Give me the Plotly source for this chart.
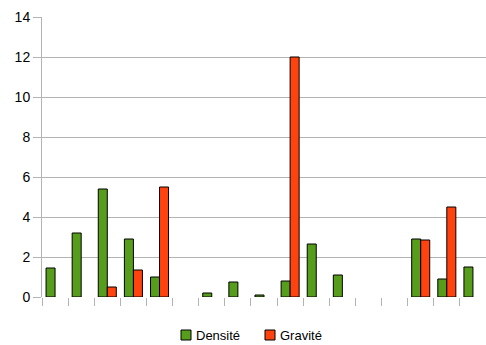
import plotly.graph_objects as go

# Seventeen unlabeled categories along the x axis; None = no bar
positions = list(range(17))
densite = [1.45, 3.2, 5.4, 2.9, 1.0, None, 0.2, 0.75, 0.1, 0.8, 2.65, 1.1, None, None, 2.9, 0.9, 1.5]
gravite = [None, None, 0.5, 1.35, 5.5, None, None, None, None, 12, None, None, None, None, 2.85, 4.5, None]
y_ticks = [0, 2, 4, 6, 8, 10, 12, 14]
series_names = ["Densité", "Gravité"]

GREEN = "#579d1c"
RED = "#ff420e"
GRID = "#b3b3b3"

fig = go.Figure()
for name, vals, col in zip(series_names, [densite, gravite], [GREEN, RED]):
    fig.add_trace(go.Bar(x=positions, y=vals, name=name, showlegend=False,
                         marker=dict(color=col, line=dict(color="#000000", width=1))))

# Legend drawn below the plot: coloured square followed by the series name
PLOT_L, PLOT_W, PLOT_B, PLOT_H = 42, 444, 297, 280


def px_x(px):
    return (px - PLOT_L) / PLOT_W


def px_y(py):
    return (PLOT_B - py) / PLOT_H


legend_items = [(181, GREEN, series_names[0]), (265, RED, series_names[1])]
for left, col, label in legend_items:
    fig.add_shape(type="rect", xref="paper", yref="paper",
                  x0=px_x(left), x1=px_x(left + 10), y0=px_y(340), y1=px_y(330),
                  fillcolor=col, line=dict(color="#000000", width=1))
    fig.add_annotation(xref="paper", yref="paper", x=px_x(left + 13), y=px_y(335.5),
                       xanchor="left", yanchor="middle", text=label, showarrow=False,
                       font=dict(size=13, color="#000000"))

fig.update_layout(
    width=486, height=345,
    margin=dict(l=42, r=0, t=17, b=48),
    paper_bgcolor="white", plot_bgcolor="white",
    barmode="group", bargap=0.31, bargroupgap=0,
    font=dict(family="Liberation Sans, Arial, sans-serif", size=13, color="#000000"),
    xaxis=dict(range=[-0.5, 16.5], tickmode="linear", tick0=-0.5, dtick=1,
               showticklabels=False, ticks="outside", ticklen=8, tickcolor=GRID,
               showgrid=False, zeroline=False, showline=False),
    yaxis=dict(range=[0, 14], tickvals=y_ticks, ticks="outside", ticklen=8,
               tickcolor=GRID, showgrid=True, gridcolor=GRID, gridwidth=1,
               zeroline=False, showline=True, linecolor=GRID, linewidth=1,
               tickfont=dict(size=14)),
)

fig.write_html("out.html")
